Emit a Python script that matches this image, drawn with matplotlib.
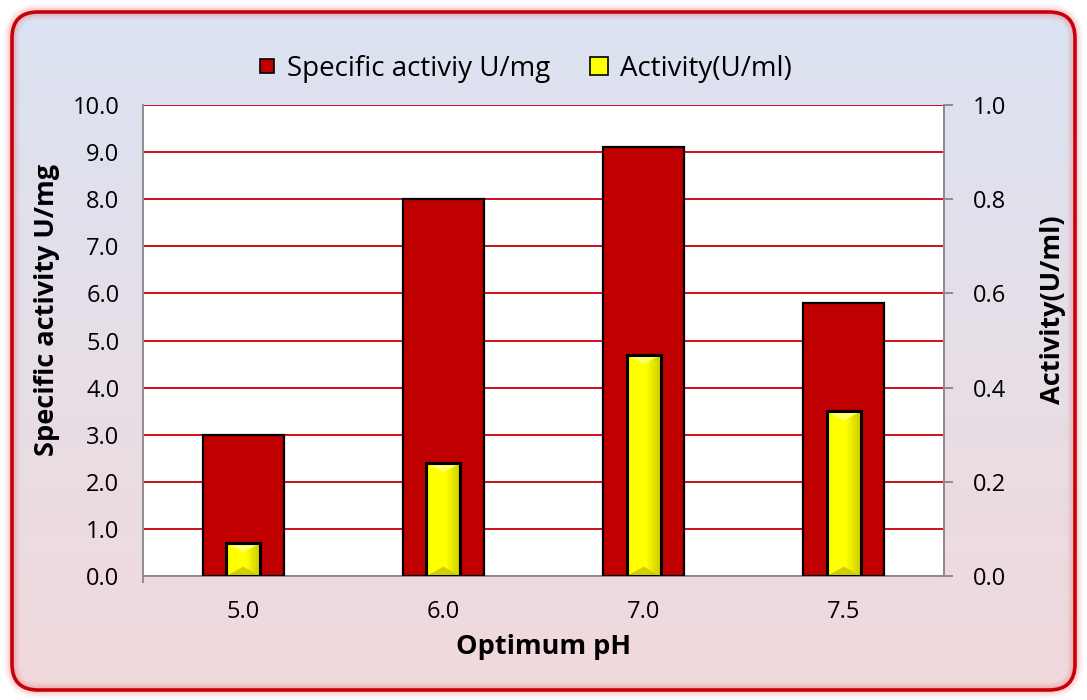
import numpy as np
import matplotlib
matplotlib.use("Agg")
import matplotlib.pyplot as plt
from matplotlib.patches import FancyBboxPatch, Rectangle, Polygon
from matplotlib.lines import Line2D

plt.rcParams['font.family'] = ['Open Sans', 'DejaVu Sans']

ph_labels = ["5.0", "6.0", "7.0", "7.5"]
specific_activity = [3.0, 8.0, 9.1, 5.8]      # U/mg
activity = [0.07, 0.24, 0.47, 0.35]           # U/ml

W, H = 1087, 700
fig = plt.figure(figsize=(W / 100, H / 100), dpi=100)
fig.patch.set_facecolor("white")

# background panel with vertical gradient and rounded red frame
bg = fig.add_axes([0, 0, 1, 1], zorder=-10)
bg.set_xlim(0, W)
bg.set_ylim(H, 0)
bg.axis("off")
grad = np.linspace(0, 1, 256)[:, None]
top_c = np.array([0.859, 0.890, 0.949])
bot_c = np.array([0.945, 0.851, 0.863])
img = top_c[None, None, :] * (1 - grad[..., None]) + bot_c[None, None, :] * grad[..., None]
box = dict(boxstyle="round,pad=0,rounding_size=26")
for i, a in enumerate([0.10, 0.07, 0.04]):
    glow = FancyBboxPatch((12, 12), W - 24, H - 22, **box,
                          facecolor="none", edgecolor="#e23030", alpha=a,
                          linewidth=2.6 + 3 * (i + 1), zorder=2)
    bg.add_patch(glow)
frame = FancyBboxPatch((12, 12), W - 24, H - 22, **box,
                       facecolor="none", edgecolor="#c8000a", linewidth=2.6, zorder=3)
bg.add_patch(frame)
im = bg.imshow(img, extent=[12, W - 12, H - 10, 12], aspect="auto", zorder=1)
clip = FancyBboxPatch((12, 12), W - 24, H - 22, **box,
                      transform=bg.transData, facecolor="none", edgecolor="none")
bg.add_patch(clip)
im.set_clip_path(clip)

# main plot area
L, R, T, B = 143, 944, 105, 576
ax = fig.add_axes([L / W, 1 - B / H, (R - L) / W, (B - T) / H])
ax.set_facecolor("white")
x = np.arange(len(ph_labels))
ax.set_xlim(-0.5, len(ph_labels) - 0.5)
ax.set_ylim(0, 10)
ax.set_yticks(np.arange(0, 10.01, 1.0))
ax.set_yticklabels([f"{v:.1f}" for v in np.arange(0, 10.01, 1.0)], fontsize=17)
ax.set_xticks(x)
ax.set_xticklabels(ph_labels, fontsize=17)
ax.tick_params(axis="x", length=0, pad=17)
ax.tick_params(axis="y", length=0, pad=17)
ax.yaxis.grid(True, color="#d0101a", linewidth=1.4)
ax.set_axisbelow(True)
ax.spines["top"].set_visible(False)
for s in ["left", "right", "bottom"]:
    ax.spines[s].set_color("#8c8c8c")
    ax.spines[s].set_linewidth(1.4)
ax.spines["left"].set_bounds(-0.13, 10)

red_w = 0.405
ax.bar(x, specific_activity, width=red_w, color="#c00000",
       edgecolor="black", linewidth=1.6, zorder=3)
ax.set_ylabel("Specific activity U/mg", fontsize=19.5, fontweight="bold")
ax.yaxis.set_label_coords((60 - L) / (R - L), 0.565)
ax.set_xlabel("Optimum pH", fontsize=19.5, fontweight="bold")
ax.xaxis.set_label_coords(0.5, (B - 634) / (B - T))

ax2 = ax.twinx()
ax2.set_ylim(0, 1.0)
ax2.set_yticks(np.arange(0, 1.01, 0.2))
ax2.set_yticklabels([f"{v:.1f}" for v in np.arange(0, 1.01, 0.2)], fontsize=17)
ax2.tick_params(axis="y", length=6.5, width=1.4, color="#8c8c8c", direction="out", pad=14)
for s in ["top", "left", "bottom"]:
    ax2.spines[s].set_visible(False)
ax2.spines["right"].set_color("#8c8c8c")
ax2.spines["right"].set_linewidth(1.4)
ax2.set_ylabel("Activity(U/ml)", fontsize=19.5, fontweight="bold")
ax2.yaxis.set_label_coords((1040 - L) / (R - L), 0.565)

yel_w = 0.17
bars = ax2.bar(x, activity, width=yel_w, color="#ffff00",
               edgecolor="black", linewidth=2.2, zorder=3)

# bevel shading on each yellow bar
for b in bars:
    x0, w, h = b.get_x(), b.get_width(), b.get_height()
    bev = min(0.02, h * 0.3)
    n = 8
    for k in range(n):
        f = k / n
        shade = np.array([1.0, 1.0, 0.0]) * (1 - 0.22 * f)
        ax2.add_patch(Rectangle((x0 + w * (0.55 + 0.45 * f), 0), w * 0.45 / n + 1e-4, h,
                                facecolor=shade, edgecolor="none", zorder=3.1))
    ax2.add_patch(Polygon([(x0, h), (x0 + w, h), (x0 + w * 0.5, h - bev)],
                          closed=True, facecolor="#ffff70", edgecolor="none", zorder=3.2))
    ax2.add_patch(Polygon([(x0, 0), (x0 + w, 0), (x0 + w * 0.5, bev)],
                          closed=True, facecolor="#d0d000", edgecolor="none", zorder=3.2))
    ax2.add_patch(Rectangle((x0, 0), w, h, facecolor="none",
                            edgecolor="black", linewidth=2.2, zorder=3.3))

handles = [
    Line2D([], [], marker="s", linestyle="none", markersize=10.5,
           markerfacecolor="#c00000", markeredgecolor="black", markeredgewidth=1.2),
    Line2D([], [], marker="s", linestyle="none", markersize=13.5,
           markerfacecolor="#ffff00", markeredgecolor="black", markeredgewidth=1.2),
]
fig.legend(handles, ["Specific activiy U/mg", "Activity(U/ml)"],
           loc="center", bbox_to_anchor=(523 / W, 1 - 69 / H), ncol=2,
           frameon=False, fontsize=20, handlelength=0.9, handletextpad=0.3,
           columnspacing=1.3)

fig.savefig("out.png", dpi=100)
